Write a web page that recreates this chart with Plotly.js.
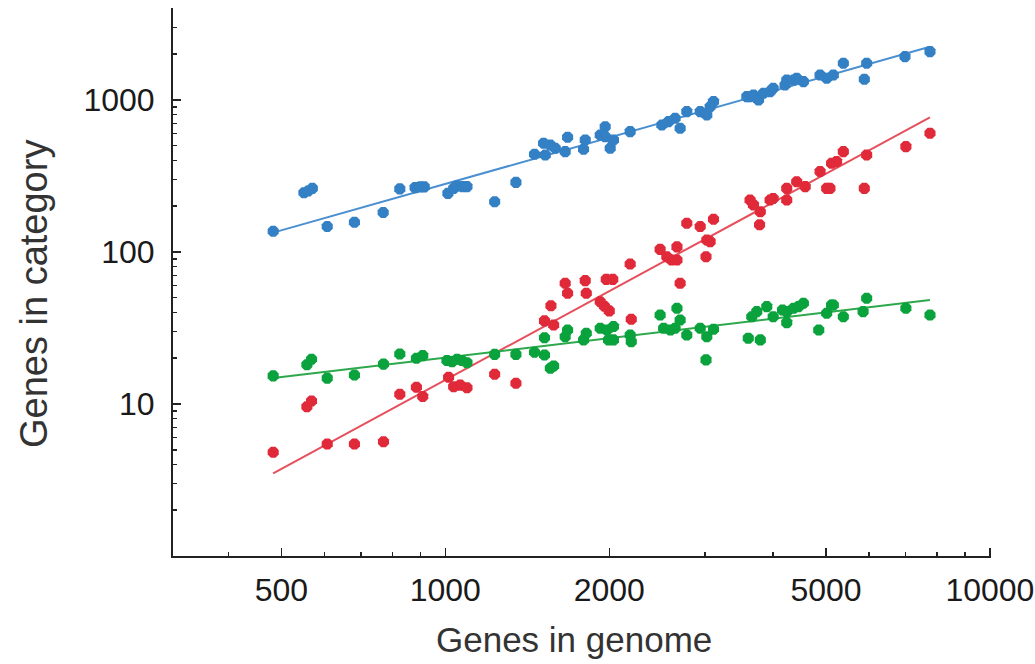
<!DOCTYPE html>
<html>
<head>
<meta charset="utf-8">
<script src="https://cdn.plot.ly/plotly-3.0.1.min.js"></script>
<style>html,body{margin:0;padding:0;background:#fff;}#chart{width:1035px;height:664px;}</style>
</head>
<body>
<div id="chart"></div>
<script>
// Blue series
const blueX = [483, 550, 560, 570, 607, 681, 769, 825, 880, 900, 915, 1011, 1036, 1050, 1075, 1096, 1232, 1348, 1458, 1515, 1526, 1559, 1592, 1660, 1677, 1794, 1807, 1925, 1966, 1966, 2008, 2036, 2185, 2498, 2569, 2642, 2699, 2776, 2938, 3021, 3064, 3108, 3578, 3627, 3680, 3760, 3838, 3948, 4000, 4205, 4236, 4359, 4418, 4545, 4877, 5015, 5158, 5381, 5880, 5939, 6983, 7762];
const blueY = [137, 245, 252, 262, 147, 157, 182, 260, 265, 268, 268, 243, 262, 272, 269, 269, 214, 287, 439, 519, 435, 506, 481, 457, 568, 474, 546, 588, 667, 574, 481, 546, 619, 685, 720, 758, 651, 838, 838, 797, 903, 975, 1052, 1052, 1079, 1000, 1107, 1135, 1194, 1255, 1354, 1354, 1388, 1320, 1460, 1388, 1460, 1742, 1368, 1742, 1927, 2079];
// Red series
const redX = [483, 557, 568, 607, 681, 770, 825, 885, 909, 1014, 1036, 1065, 1096, 1232, 1348, 1521, 1563, 1581, 1660, 1677, 1807, 1815, 1925, 1960, 1975, 2000, 2030, 2185, 2195, 2480, 2551, 2603, 2663, 2663, 2699, 2776, 2938, 3011, 3021, 3064, 3108, 3627, 3680, 3776, 3788, 3948, 4000, 4236, 4236, 4418, 4580, 4877, 5015, 5085, 5120, 5230, 5381, 5880, 5939, 7010, 7762];
const redY = [4.81, 9.6, 10.46, 5.45, 5.45, 5.65, 11.6, 12.9, 11.2, 15.0, 13.0, 13.3, 12.8, 15.7, 13.7, 35.2, 44.3, 33.1, 62.2, 53.5, 64.8, 53.5, 47, 44, 66, 41, 66, 83.4, 36.1, 104, 93, 88.5, 108, 88.5, 62.2, 154.5, 147, 93, 120, 117, 164, 220, 204, 151, 184, 220, 225, 220, 262, 290, 269, 338, 262, 262, 383, 393, 457, 262, 435, 493, 604];
// Green series
const greenX = [483, 557, 568, 607, 681, 770, 825, 885, 909, 1007, 1029, 1051, 1073, 1096, 1232, 1348, 1458, 1521, 1521, 1559, 1581, 1660, 1677, 1794, 1815, 1925, 1980, 1994, 2036, 2036, 2185, 2195, 2480, 2517, 2590, 2642, 2663, 2699, 2776, 2938, 3011, 3021, 3108, 3600, 3654, 3732, 3788, 3893, 4000, 4160, 4236, 4236, 4359, 4450, 4545, 4850, 5015, 5120, 5158, 5381, 5850, 5939, 7010, 7762];
const greenY = [15.3, 18.1, 19.7, 14.8, 15.5, 18.3, 21.3, 20.0, 20.8, 19.3, 19.0, 19.7, 19.3, 18.7, 21.2, 21.2, 21.9, 21.0, 27.3, 17.2, 17.8, 27.7, 30.7, 26.4, 29.2, 31.5, 30.7, 26.4, 26.4, 32.3, 28.4, 25.7, 38.5, 31.5, 30.7, 31.5, 42.6, 35.7, 28.4, 31.5, 19.5, 27.7, 31.0, 27.1, 37.5, 40.5, 26.4, 43.7, 37.5, 41.5, 40.5, 34.3, 42.6, 43.7, 46.0, 30.7, 39.5, 44.8, 44.8, 37.5, 40.5, 49.6, 42.6, 38.5];
// Fitted lines (endpoints)
const blueFitX = [483, 7760];
const blueFitY = [134, 2240];
const redFitX = [483, 7760];
const redFitY = [3.5, 769];
const greenFitX = [483, 7760];
const greenFitY = [14.8, 48.3];
// Axis ticks
const xTickVals = [500, 1000, 2000, 5000, 10000];
const xTickText = ['500', '1000', '2000', '5000', '10000'];
const xMinorVals = [400, 600, 700, 800, 900, 3000, 4000, 6000, 7000, 8000, 9000];
const yTickVals = [10, 100, 1000];
const yTickText = ['10', '100', '1000'];
const yMinorVals = [2, 3, 4, 5, 6, 7, 8, 9, 20, 30, 40, 50, 60, 70, 80, 90, 200, 300, 400, 500, 600, 700, 800, 900, 2000, 3000, 4000];
const xTitle = 'Genes in genome';
const yTitle = 'Genes in category';

const BLUE = '#3381c4', RED = '#e02a3a', GREEN = '#0aa23c';
function pts(x, y, c) {
  return {x: x, y: y, type: 'scatter', mode: 'markers', cliponaxis: false,
    marker: {symbol: 'octagon', size: 12, color: c, line: {width: 0}}, hoverinfo: 'x+y'};
}
function fit(x, y, c) {
  return {x: x, y: y, type: 'scatter', mode: 'lines', line: {color: c, width: 2}, hoverinfo: 'skip'};
}
const data = [
  fit(blueFitX, blueFitY, '#4a8fd0'),
  fit(redFitX, redFitY, '#e6505c'),
  fit(greenFitX, greenFitY, '#2ea84c'),
  pts(blueX, blueY, BLUE),
  pts(redX, redY, RED),
  pts(greenX, greenY, GREEN)
];
const tickFont = {family: 'Liberation Sans, Arial, sans-serif', size: 32, color: '#1a1a1a'};
const layout = {
  width: 1035, height: 664,
  margin: {l: 173, r: 44, t: 8, b: 108, pad: 0},
  paper_bgcolor: '#ffffff', plot_bgcolor: '#ffffff',
  showlegend: false,
  xaxis: {
    type: 'log', range: [2.5, 4.002], showgrid: false, zeroline: false,
    showline: true, linecolor: '#222', linewidth: 2,
    tickmode: 'array', tickvals: xTickVals, ticktext: xTickText,
    ticks: 'inside', ticklen: 8, tickwidth: 1.5, tickcolor: '#222',
    tickfont: tickFont, ticklabelstandoff: 5,
    minor: {tickmode: 'array', tickvals: xMinorVals, ticks: 'inside', ticklen: 4, tickwidth: 1.5, tickcolor: '#222', showgrid: false}
  },
  yaxis: {
    type: 'log', range: [0, 3.605], showgrid: false, zeroline: false,
    showline: true, linecolor: '#222', linewidth: 2,
    tickmode: 'array', tickvals: yTickVals, ticktext: yTickText,
    ticks: 'inside', ticklen: 8, tickwidth: 1.5, tickcolor: '#222',
    tickfont: tickFont, ticklabelstandoff: 10,
    minor: {tickmode: 'array', tickvals: yMinorVals, ticks: 'inside', ticklen: 4, tickwidth: 1.5, tickcolor: '#222', showgrid: false}
  },
  annotations: [
    {text: xTitle, xref: 'paper', yref: 'paper', x: 0.490, y: -0.153, xanchor: 'center', yanchor: 'middle',
     showarrow: false, font: {family: 'Liberation Sans, Arial, sans-serif', size: 35, color: '#333333'}},
    {text: yTitle, xref: 'paper', yref: 'paper', x: -0.170, y: 0.478, xanchor: 'center', yanchor: 'middle',
     textangle: -90, showarrow: false, font: {family: 'Liberation Sans, Arial, sans-serif', size: 38, color: '#333333'}}
  ]
};
Plotly.newPlot('chart', data, layout, {displayModeBar: false, staticPlot: true});
</script>
</body>
</html>
